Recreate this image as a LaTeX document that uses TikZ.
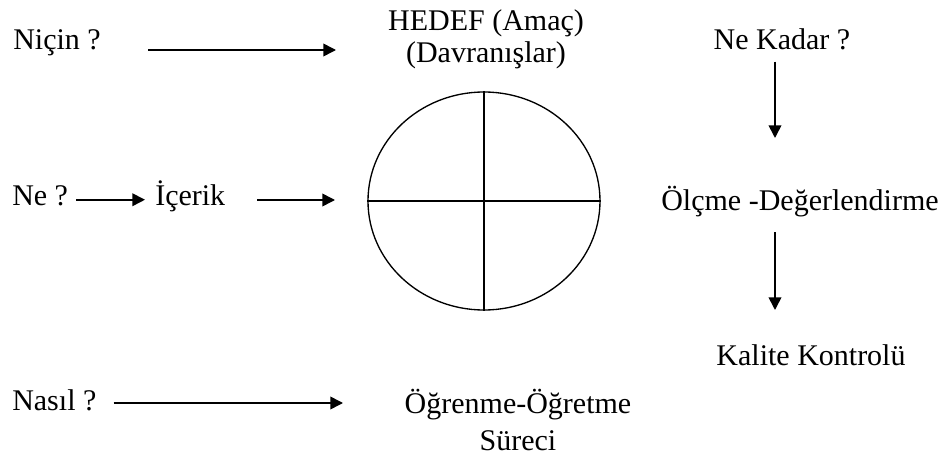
\documentclass[tikz,border=0pt]{standalone}
\usepackage{fontspec}
\setmainfont{Liberation Serif}
\usetikzlibrary{positioning,arrows.meta,shapes.geometric}

\begin{document}
\begin{tikzpicture}[x=0.75pt,y=-0.75pt,
  font=\fontsize{22.5}{25.5}\selectfont,
  lbl/.style={inner sep=0pt,text height=12.4pt,text depth=4.5pt},
  arr/.style={-{Triangle[length=9.5pt,width=9.5pt]},line width=1.2pt},
  daire/.style={ellipse,draw,line width=1pt,minimum width=174pt,minimum height=163.5pt,inner sep=0pt}]
  \useasboundingbox (0,0) rectangle (951,464);
  % sol: sorular
  \node[lbl,anchor=base west] (nicin) at (13,50) {Niçin ?};
  \node[lbl,anchor=base west] (ne) at (12,205) {Ne ?};
  \node[lbl,anchor=base west] (icerik) at (155,205) {İçerik};
  \node[lbl,anchor=base west] (nasil) at (12,410) {Nasıl ?};
  % orta: hedef ve daire
  \node[inner sep=0pt,anchor=north,align=center,font=\fontsize{22.5}{24}\selectfont] (hedef) at (486,9) {HEDEF (Amaç)\\(Davranışlar)};
  \node[daire] (amac) at (484,201) {};
  \draw[line width=1pt] (amac.north) -- (amac.south);
  \draw[line width=1pt] (amac.west) -- (amac.east);
  \node[inner sep=0pt,anchor=north,align=center,font=\fontsize{22.5}{27.75}\selectfont] (surec) at (518,389) {Öğrenme-Öğretme\\Süreci};
  % sag: degerlendirme
  \node[lbl,anchor=base] (nekadar) at (782,50) {Ne Kadar ?};
  \node[lbl,anchor=base] (olcme) at (800,210) {Ölçme -Değerlendirme};
  \node[lbl,anchor=base] (kalite) at (811,365) {Kalite Kontrolü};
  % oklar
  \coordinate (nicinok) at (336,50);
  \coordinate (icerikok) at (335,200);
  \coordinate (nasilok) at (343,403);
  \coordinate (kadarok) at (775,138);
  \coordinate (kaliteok) at (775,310);
  \draw[arr,shorten <=35.6pt] (nicin.east |- nicinok) -- (nicinok);
  \draw[arr,shorten <=6pt,shorten >=7.5pt] (ne.east) -- (icerik.west);
  \draw[arr,shorten <=24pt] (icerik.east |- icerikok) -- (icerikok);
  \draw[arr,shorten <=12.7pt] (nasil.east |- nasilok) -- (nasilok);
  \draw[arr,shorten <=4pt] (nekadar.south -| kadarok) -- (kadarok);
  \draw[arr,shorten <=12pt] (olcme.south -| kaliteok) -- (kaliteok);
\end{tikzpicture}
\end{document}
